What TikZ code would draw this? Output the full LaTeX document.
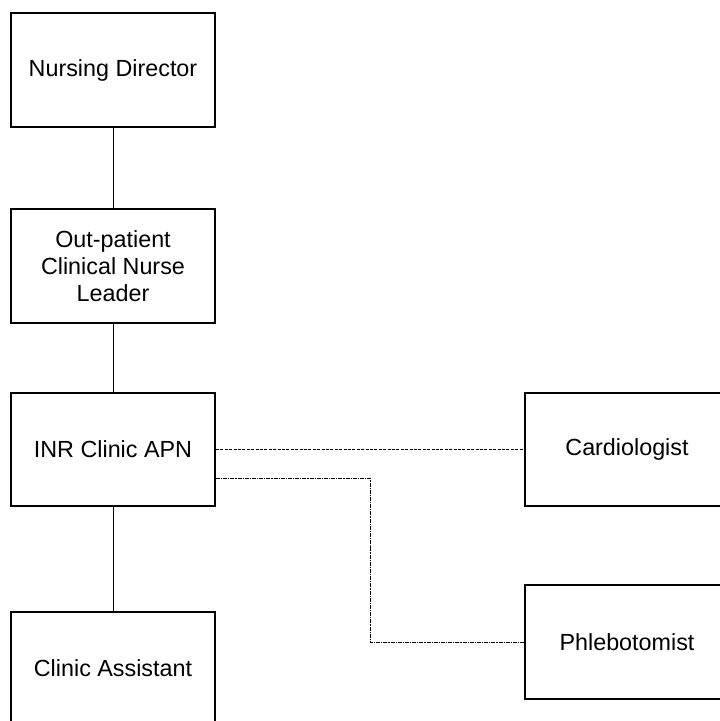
\documentclass[tikz,border=0pt]{standalone}
\usepackage{fontspec}
\setmainfont{Liberation Sans}
\usetikzlibrary{calc}

\begin{document}
\begin{tikzpicture}[x=0.75pt,y=-0.75pt,
   role/.style={draw,line width=1.5pt,minimum width=153pt,minimum height=85pt,
     align=center,inner sep=0pt,font=\fontsize{17.5}{20}\selectfont},
   line/.style={line width=0.6pt},
   dotline/.style={line width=0.6pt,dash pattern=on 2.2pt off 1.1pt},
   dashdotline/.style={line width=0.6pt,dash pattern=on 3pt off 0.8pt on 0.8pt off 0.8pt}]
   \useasboundingbox (0,0) rectangle (720,721);
   % left column
   \node[role] (dir)  at (113,70)    {Nursing Director};
   \node[role] (lead) at (113,266)   {Out-patient\\Clinical Nurse\\Leader};
   \node[role] (apn)  at (113,449.5) {INR Clinic APN};
   \node[role] (asst) at (113,668.5) {Clinic Assistant};
   % right column
   \node[role] (card)  at (627,449.5) {Cardiologist};
   \node[role] (phleb) at (627,642)   {Phlebotomist};
   % links
   \draw[line] (dir) -- (lead);
   \draw[line] (lead) -- (apn);
   \draw[line] (apn) -- (asst);
   \draw[dotline] (apn.east) -- (card.west);
   \draw[dashdotline] ([yshift=-21.5pt]apn.east) -| ($(apn.east)!0.5!(phleb.west)$) |- (phleb.west);
\end{tikzpicture}
\end{document}
